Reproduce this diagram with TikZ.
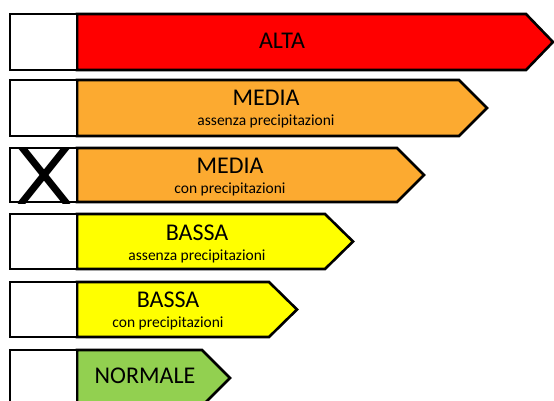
\documentclass[tikz,border=0pt]{standalone}
\usepackage{fontspec}
\setmainfont{Carlito}
\usepackage{xcolor}
\usetikzlibrary{positioning}
\definecolor{altared}{RGB}{255,0,0}
\definecolor{mediaorange}{RGB}{252,170,48}
\definecolor{bassayellow}{RGB}{255,255,0}
\definecolor{normalgreen}{RGB}{146,208,80}

\begin{document}
\begin{tikzpicture}[x=1pt,y=-1pt]
            \tikzset{lvl/.style = {draw=black, line width=2.6pt, line join=miter}}
            \tikzset{chk/.style = {draw=black, line width=2.6pt, fill=white}}
            \tikzset{big/.style = {anchor=base, inner sep=0pt, font=\fontsize{24}{28}\selectfont}}
            \tikzset{sub/.style = {anchor=base, inner sep=0pt, font=\fontsize{15.5}{18}\selectfont}}
            \useasboundingbox (0,0) rectangle (554,400);

            % livelli
            \draw[lvl, fill=altared] (77,14) -- (526,14) -- (553,42) -- (526,70) -- (77,70) -- cycle;
            \draw[lvl, fill=mediaorange] (77,80) -- (459,80) -- (487,108) -- (459,136) -- (77,136) -- cycle;
            \draw[lvl, fill=mediaorange] (77,148) -- (397,148) -- (424,175) -- (397,202) -- (77,202) -- cycle;
            \draw[lvl, fill=bassayellow] (77,214) -- (325,214) -- (353,241.5) -- (325,269) -- (77,269) -- cycle;
            \draw[lvl, fill=bassayellow] (77,282) -- (269,282) -- (297,309.5) -- (269,337) -- (77,337) -- cycle;
            \draw[lvl, fill=normalgreen] (77,350) -- (202,350) -- (230,378) -- (202,406) -- (77,406) -- cycle;

            % caselle
            \draw[chk] (10,14) rectangle (77,70);
            \draw[chk] (10,80) rectangle (77,136);
            \draw[chk] (10,148) rectangle (77,202);
            \draw[chk] (10,214) rectangle (77,269);
            \draw[chk] (10,282) rectangle (77,337);
            \draw[chk] (10,350) rectangle (77,406);

            \begin{scope}
              \clip (10,147) rectangle (77,203);
              \draw[line width=7pt] (20,145) -- (68,205);
              \draw[line width=7pt] (68,145) -- (20,205);
            \end{scope}

            % testi
            \node[big] (t1) at (282,48) {ALTA};
            \node[big] (t2) at (266,105) {MEDIA};
            \node[sub] (s2) at (266,125) {assenza precipitazioni};
            \node[big] (t3) at (230,173) {MEDIA};
            \node[sub] (s3) at (230,193) {con precipitazioni};
            \node[big] (t4) at (197,240) {BASSA};
            \node[sub] (s4) at (197,260) {assenza precipitazioni};
            \node[big] (t5) at (168,307) {BASSA};
            \node[sub] (s5) at (168,327) {con precipitazioni};
            \node[big] (t6) at (145,383) {NORMALE};

        \end{tikzpicture}
\end{document}
